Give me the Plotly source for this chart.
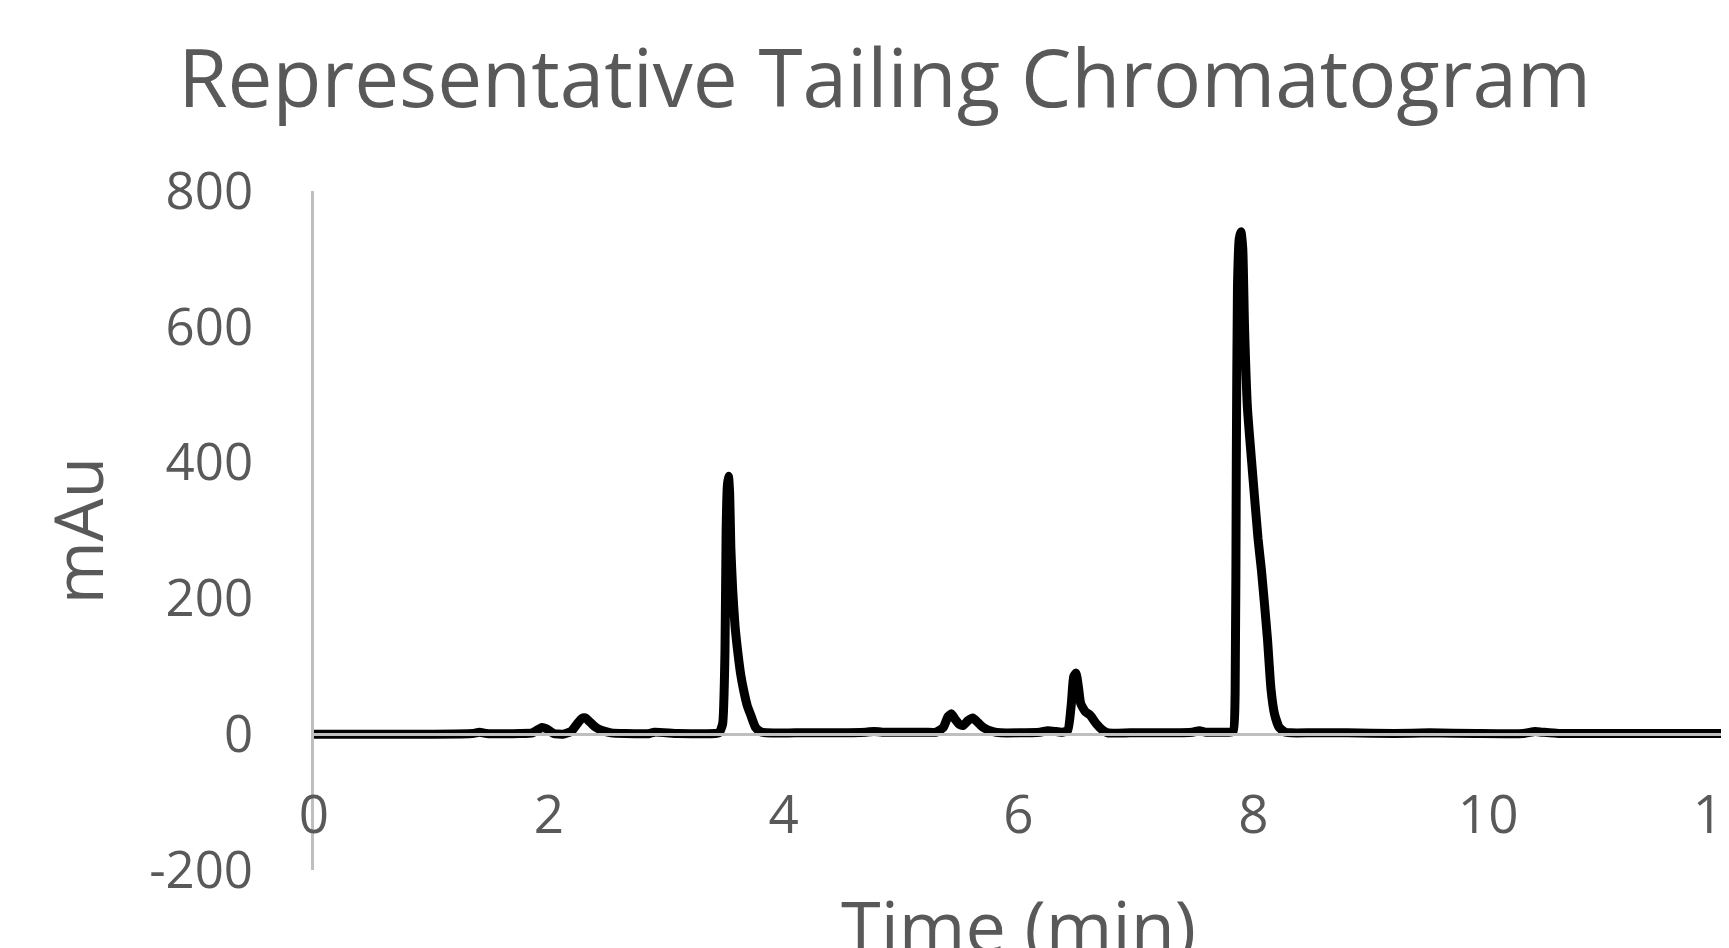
import plotly.graph_objects as go

# Retention time (min) and detector response (mAu)
time_min = [
    0.00, 0.50, 1.00, 1.35, 1.41, 1.47, 1.75, 1.86, 1.91, 1.94, 1.98, 2.04,
    2.12, 2.19, 2.24, 2.28, 2.31, 2.35, 2.40, 2.46, 2.53, 2.65, 2.86, 2.90,
    3.10, 3.42, 3.45, 3.48, 3.50, 3.51, 3.52, 3.53, 3.54, 3.55, 3.565, 3.585,
    3.61, 3.635, 3.66, 3.69, 3.72, 3.76, 3.80, 3.85, 4.10, 4.40, 4.70, 4.77,
    4.84, 5.00, 5.20, 5.30, 5.36, 5.40, 5.43, 5.46, 5.50, 5.53, 5.57, 5.61,
    5.65, 5.70, 5.78, 5.85, 6.00, 6.18, 6.25, 6.32, 6.38, 6.42, 6.45, 6.47,
    6.49, 6.51, 6.53, 6.57, 6.61, 6.66, 6.71, 6.76, 6.95, 7.25, 7.48, 7.54,
    7.60, 7.70, 7.80, 7.83, 7.845, 7.855, 7.865, 7.88, 7.895, 7.91, 7.925, 7.95,
    7.99, 8.04, 8.07, 8.12, 8.15, 8.18, 8.22, 8.27, 8.32, 8.50, 8.72, 8.80,
    9.20, 9.50, 9.90, 10.30, 10.40, 10.46, 10.60, 11.00, 11.50, 12.00,
]
response_mau = [
    0, 0, 0, 1, 3, 1, 1, 2, 7, 10, 8, 1,
    0, 4, 15, 23, 24, 18, 10, 5, 2, 1, 1, 3,
    1, 1, 2, 15, 120, 300, 365, 380, 355, 275, 215, 161,
    120, 87, 64, 42, 28, 10, 4, 2, 2, 2, 3, 4,
    3, 3, 3, 3, 10, 26, 30, 22, 14, 13, 20, 24,
    18, 10, 4, 2, 2, 3, 5, 4, 3, 6, 45, 85,
    90, 70, 45, 33, 28, 16, 7, 2, 2, 2, 3, 5,
    3, 3, 3, 5, 60, 400, 660, 730, 740, 715, 600, 480,
    392, 288, 240, 141, 67, 30, 10, 3, 2, 2, 2, 2,
    1, 2, 1, 1, 4, 3, 1, 1, 1, 1,
]

x_ticks = [0, 2, 4, 6, 8, 10, 12]
y_ticks = [-200, 0, 200, 400, 600, 800]
y_tick_text = ["-200", "0", "200", "400", "600", "800"]

chart_title = "Representative Tailing Chromatogram"
x_title = "Time (min)"
y_title = "mAu"

FONT = "Open Sans"
TEXT = "#595959"
AXIS = "#bfbfbf"

fig = go.Figure()
fig.add_trace(go.Scatter(
    x=time_min, y=response_mau, mode="lines",
    line=dict(color="black", width=9, shape="spline", smoothing=0.5),
    showlegend=False, hoverinfo="x+y",
))

fig.update_layout(
    width=1729, height=948,
    margin=dict(l=306, r=14, t=183, b=86, autoexpand=False),
    paper_bgcolor="white", plot_bgcolor="white",
    font=dict(family=FONT, color=TEXT),
    title=dict(text=chart_title, x=0.507, xanchor="center", y=1 - 71 / 948,
               yanchor="middle", font=dict(family=FONT, size=80, color=TEXT)),
    xaxis=dict(
        range=[0, 12], tickvals=x_ticks, showgrid=False, zeroline=False,
        showline=True, linecolor=AXIS, linewidth=2.5,
        anchor="free", position=0.2,
        ticks="outside", ticklen=33, tickcolor="rgba(0,0,0,0)",
        ticklabeloverflow="allow",
        tickfont=dict(family=FONT, size=53, color=TEXT),
    ),
    yaxis=dict(
        range=[-200, 800], tickvals=y_ticks, ticktext=y_tick_text,
        showgrid=False, zeroline=False,
        showline=True, linecolor=AXIS, linewidth=2.5,
        ticks="outside", ticklen=48, tickcolor="rgba(0,0,0,0)",
        tickfont=dict(family=FONT, size=51, color=TEXT),
        title=dict(text=y_title, font=dict(family=FONT, size=68, color=TEXT), standoff=24),
    ),
    annotations=[dict(
        text=x_title, xref="paper", yref="paper", x=0.5, y=-0.0058,
        xanchor="center", yanchor="top", showarrow=False,
        font=dict(family=FONT, size=72, color=TEXT),
    )],
)

fig.write_html("out.html")
